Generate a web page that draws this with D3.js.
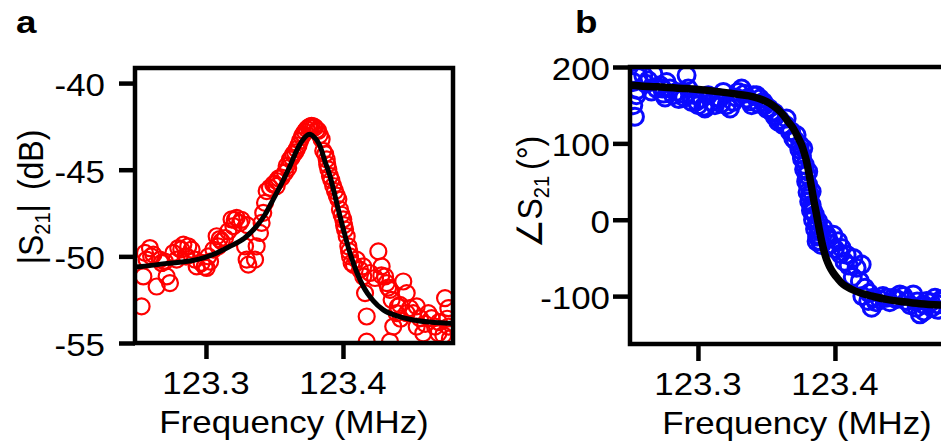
<!DOCTYPE html>
<html><head><meta charset="utf-8">
<script src="https://cdn.jsdelivr.net/npm/d3@7"></script>
<style>
body{margin:0;background:#fff}
svg{display:block}
text{font-family:"Liberation Sans",Arial,Helvetica,sans-serif;fill:#000}
</style>
</head><body>
<svg id="chart" width="941" height="445"></svg>
<script>
// ---------- Panel a : |S21| (dB) ----------
const aFreq = [123.2555,123.2591,123.2616,123.2567,123.2664,123.2676,123.2543,123.2640,123.2713,123.2737,123.2530,
123.2762,123.2798,123.2835,123.2871,123.2895,123.2920,123.2932,123.2968,123.3005,123.3017,123.3054,123.3078,123.3114,
123.3139,123.3163,123.3187,123.3224,123.3248,123.3285,123.3297,123.3309,123.3358,123.3370,123.3394,123.3406,123.3418,
123.3431,123.3443,123.3467,123.3491,123.3516,123.3552,123.3577,123.3589,123.3613,123.3637,123.3662,123.3686,123.3710,
123.3735,123.3771,123.3796,123.3820,123.3844,123.3856,123.3881,123.3893,123.3905,123.3929,123.3942,123.3966,123.3978,
123.4002,123.4015,123.4027,123.4039,123.4051,123.4063,123.4100,123.4124,123.4148,123.4161,123.4173,123.4197,123.4234,
123.4258,123.4282,123.4307,123.4319,123.4343,123.4355,123.4367,123.4392,123.4416,123.4440,123.4465,123.4489,123.4513,
123.4538,123.4562,123.4586,123.4623,123.4647,123.4672,123.4696,123.4732,123.4745,123.4769,123.4769,123.4781,123.4173,
123.4343,123.2786,123.2859,123.3090,123.3200,123.3516,123.4148,123.4538,123.4465,
123.3500,123.3530,123.3600,123.3625,123.3650,123.3675,123.3700,123.3722,123.3750,123.3760,123.3785,123.3810,123.3830,
123.3870,123.3885,123.3915,123.3955,123.3990,123.4008,123.4045,123.4080,123.3300,123.3260,123.3210,123.2700,123.2600,
123.2820,123.2850,123.2990,123.3030,123.3100,123.4280,123.4330,123.4400,123.4420,123.4600,123.4700,123.4760];
const aMag = [-49.80,-49.52,-49.90,-50.19,-50.19,-50.38,-51.16,-51.74,-51.16,-51.54,-52.89,
-49.80,-49.52,-49.32,-49.42,-49.61,-50.19,-50.58,-50.38,-50.67,-50.00,-49.61,-48.84,-49.13,
-48.94,-48.55,-47.87,-47.78,-48.07,-49.42,-50.19,-50.48,-50.19,-49.42,-48.65,-48.07,-47.49,
-46.91,-46.23,-46.04,-45.85,-45.65,-45.46,-45.17,-44.78,-44.40,-44.11,-43.82,-43.34,-42.95,
-42.66,-42.47,-42.56,-42.76,-43.24,-43.91,-44.40,-44.98,-45.36,-45.94,-46.23,-46.71,-47.29,
-47.87,-48.45,-48.84,-49.42,-50.00,-50.38,-50.19,-50.77,-51.16,-52.12,-53.47,-50.96,-51.25,
-49.71,-50.58,-51.16,-51.54,-51.93,-52.51,-54.05,-53.28,-52.80,-51.45,-52.12,-52.99,-53.28,
-54.05,-53.57,-54.44,-53.28,-53.57,-54.05,-54.44,-54.54,-52.41,-52.99,-54.05,-54.73,-54.92,
-54.92,-50.19,-50.00,-49.42,-48.26,-45.94,-50.58,-52.89,-53.28,
-45.80,-45.50,-44.90,-44.30,-44.00,-43.60,-43.10,-42.80,-42.55,-42.50,-42.50,-42.70,-43.00,
-44.10,-44.70,-45.60,-46.50,-47.60,-48.20,-49.70,-50.50,-48.20,-47.90,-47.90,-50.30,-50.00,
-49.60,-50.00,-50.60,-50.30,-49.00,-51.10,-51.80,-52.90,-53.60,-53.90,-53.80,-53.60];
const aFitFreq = [123.2482,123.2531,123.2700,123.2932,123.3050,123.3175,123.3280,123.3370,123.3430,123.3491,123.3555,
123.3613,123.3650,123.3686,123.3720,123.3745,123.3759,123.3780,123.3805,123.3832,123.3870,123.3905,123.3940,123.3978,
123.4015,123.4051,123.4100,123.4148,123.4220,123.4294,123.4400,123.4513,123.4650,123.4781,123.4803];
const aFitMag = [-50.62,-50.58,-50.42,-50.19,-49.90,-49.42,-48.95,-48.26,-47.60,-46.71,-45.75,
-44.79,-44.10,-43.53,-43.15,-42.97,-42.95,-43.05,-43.25,-43.63,-44.55,-45.36,-46.45,-47.68,
-48.80,-49.80,-50.90,-51.74,-52.55,-53.09,-53.45,-53.67,-53.80,-53.86,-53.87];
const aYTicks = [-40,-45,-50,-55];

// ---------- Panel b : phase of S21 (deg) ----------
const bFreq = [123.2528,123.2552,123.2540,123.2528,123.2564,123.2601,123.2637,123.2674,123.2698,123.2723,123.2747,
123.2771,123.2796,123.2820,123.2844,123.2881,123.2917,123.2929,123.2954,123.2978,123.3002,123.3027,123.3051,123.3075,
123.3100,123.3124,123.3161,123.3185,123.3209,123.3234,123.3258,123.3294,123.3319,123.3355,123.3392,123.3404,123.3428,
123.3453,123.3477,123.3501,123.3538,123.3562,123.3586,123.3623,123.3647,123.3672,123.3696,123.3720,123.3745,123.3757,
123.3781,123.3793,123.3805,123.3818,123.3830,123.3854,123.3866,123.3878,123.3891,123.3915,123.3939,123.3988,123.4024,
123.4049,123.4085,123.4134,123.4158,123.4195,123.4182,123.4219,123.4243,123.4268,123.4280,123.4328,123.4377,123.4426,
123.4474,123.4523,123.4572,123.4596,123.4620,123.4645,123.4669,123.4706,123.4730,123.4754,123.4800,123.4850,123.4900,
123.3769,123.3805,123.3830,123.3842,123.3878,123.3891,123.3866,
123.2560,123.2620,123.2660,123.2740,123.2760,123.2860,123.2900,123.2990,123.3040,123.3130,123.3170,123.3280,123.3340,
123.3380,123.3440,123.3490,123.3520,123.3560,123.3600,123.3640,123.3680,123.3710,123.3740,123.3760,123.3775,123.3790,
123.3800,123.3812,123.3825,123.3840,123.3855,123.3870,123.3900,123.3950,123.3970,123.4000,123.4040,123.4070,123.4100,
123.4130,123.4200,123.4250,123.4300,123.4350,123.4400,123.4450,123.4500,123.4550,123.4600,123.4650,123.4700,123.4750,
123.4780];
const bPhase = [180.4,163.0,134.8,150.0,187.0,189.1,182.6,191.3,171.7,176.1,165.2,
180.4,171.7,163.0,167.4,165.2,189.1,171.7,154.3,163.0,150.0,158.7,145.7,163.0,
154.3,150.0,158.7,167.4,150.0,145.7,154.3,167.4,171.7,158.7,150.0,163.0,163.0,
158.7,154.3,145.7,141.3,134.8,128.3,123.9,132.6,115.2,106.5,110.9,97.8,84.8,
71.7,58.7,45.7,32.6,19.6,6.5,-6.5,-19.6,-28.3,-10.9,-19.6,-19.6,-28.3,
-37.0,-45.7,-50.0,-63.0,-58.7,-80.4,-89.1,-106.5,-115.2,-102.2,-104.3,-102.2,-102.2,
-97.8,-106.5,-97.8,-115.2,-123.9,-110.9,-106.5,-115.2,-102.2,-110.9,-105.0,-112.0,-108.0,
93.5,63.0,37.0,10.9,-2.2,-15.2,-28.3,
170,178,168,172,160,158,160,155,148,160,152,160,165,
155,152,150,146,140,131,124,116,104,92,80,66,50,
36,24,12,0,-12,-22,-33,-25,-32,-38,-45,-55,-60,
-75,-100,-96,-108,-100,-108,-104,-100,-112,-107,-120,-108,-118,
-104];
const bFitFreq = [123.2504,123.2516,123.2700,123.2917,123.3161,123.3300,123.3404,123.3470,123.3526,123.3580,123.3623,
123.3660,123.3696,123.3730,123.3757,123.3775,123.3793,123.3812,123.3830,123.3848,123.3866,123.3885,123.3903,123.3920,
123.3939,123.3960,123.3988,123.4020,123.4061,123.4120,123.4182,123.4280,123.4377,123.4500,123.4620,123.4766,123.4940];
const bFitPhase = [176.3,176.0,174.0,171.7,167.4,164.0,160.9,157.0,152.2,145.0,137.0,
128.0,119.6,108.0,97.8,88.0,76.1,59.0,41.3,23.0,6.5,-12.0,-28.3,-41.0,
-52.2,-61.0,-69.6,-77.0,-84.8,-91.0,-95.7,-100.5,-104.3,-107.5,-110.0,-111.7,-112.5];
const bYTicks = [200,100,0,-100];

const xTicks = [123.3,123.4];
const xTickLabels = ["123.3","123.4"];

// ---------- drawing ----------
const svg = d3.select("#chart");
const SX = 1.09;   // horizontal stretch of the reference typography
const FS = 32;

function txt(g, x, y, s, opt = {}) {
  const t = g.append("text")
    .attr("transform", `translate(${x},${y}) scale(${opt.sx || SX},1)` + (opt.rot ? " rotate(-90)" : ""))
    .attr("text-anchor", opt.anchor || "middle")
    .style("font-size", (opt.size || FS) + "px")
    .style("font-weight", opt.weight || "normal");
  if (s !== null) t.text(s);
  return t;
}

function panel(cfg) {
  const x = d3.scaleLinear().domain(cfg.xDomain).range([cfg.left, cfg.right]);
  const y = d3.scaleLinear().domain(cfg.yDomain).range([cfg.bottom, cfg.top]);
  const g = svg.append("g");
  const clipId = "clip" + cfg.name;
  svg.append("clipPath").attr("id", clipId).append("rect")
    .attr("x", cfg.left).attr("y", cfg.top)
    .attr("width", cfg.right - cfg.left).attr("height", cfg.bottom - cfg.top);

  const data = cfg.xs.map((v, i) => [v, cfg.ys[i]]).sort((p, q) => p[0] - q[0]);
  const fit = cfg.fx.map((v, i) => [v, cfg.fy[i]]);
  const inner = g.append("g").attr("clip-path", `url(#${clipId})`);
  inner.selectAll("circle").data(data).join("circle")
    .attr("cx", d => x(d[0])).attr("cy", d => y(d[1]))
    .attr("r", cfg.r).attr("fill", "none")
    .attr("stroke", cfg.color).attr("stroke-width", cfg.cw);
  inner.append("path").datum(fit)
    .attr("d", d3.line().x(d => x(d[0])).y(d => y(d[1])).curve(d3.curveMonotoneX))
    .attr("fill", "none").attr("stroke", "#000").attr("stroke-width", cfg.lw)
    .attr("stroke-linejoin", "round").attr("stroke-linecap", "round");

  // frame
  g.append("rect").attr("x", cfg.left).attr("y", cfg.top)
    .attr("width", cfg.right - cfg.left).attr("height", cfg.bottom - cfg.top)
    .attr("fill", "none").attr("stroke", "#000").attr("stroke-width", 4.5);

  // axes (tick marks)
  const ya = g.append("g").attr("transform", `translate(${cfg.left},0)`)
    .call(d3.axisLeft(y).tickValues(cfg.yTicks).tickSize(cfg.tick).tickSizeOuter(0).tickFormat(""));
  const xa = g.append("g").attr("transform", `translate(0,${cfg.bottom})`)
    .call(d3.axisBottom(x).tickValues(xTicks).tickSize(cfg.tick).tickSizeOuter(0).tickFormat(""));
  [ya, xa].forEach(a => {
    a.select(".domain").remove();
    a.selectAll("line").attr("stroke", "#000").attr("stroke-width", 4.5);
  });

  // tick labels
  cfg.yTicks.forEach(v => txt(g, cfg.ylabX, y(v) + 13, String(v), {anchor: "end"}));
  xTicks.forEach((v, i) => txt(g, x(v), cfg.bottom + 51, xTickLabels[i]));

  // axis titles
  txt(g, (cfg.left + cfg.right) / 2, cfg.bottom + 90, "Frequency (MHz)", {size: 32});
  const yt = txt(g, cfg.ytX, cfg.ytY, null, {rot: true, size: 32});
  cfg.ytitle(yt);

  // panel letter
  txt(g, cfg.letterX, 33, cfg.name, {anchor: "start", weight: "bold", size: 32, sx: 1.15});
}

panel({
  name: "a", left: 135, right: 453, top: 68, bottom: 343,
  xDomain: [123.2482, 123.4803], yDomain: [-55, -39.13],
  xs: aFreq, ys: aMag, fx: aFitFreq, fy: aFitMag, yTicks: aYTicks,
  color: "#ff0000", r: 8, cw: 2.2, lw: 5, tick: 16, ylabX: 105,
  ytX: 43, ytY: 197, letterX: 16,
  ytitle: t => {
    t.append("tspan").text("|S");
    t.append("tspan").attr("dy", 6).style("font-size", "20px").text("21");
    t.append("tspan").attr("dy", -6).text("|");
    t.append("tspan").attr("dx", 14).text("(dB)");
  }
});

panel({
  name: "b", left: 630, right: 964, top: 67, bottom: 344,
  xDomain: [123.2504, 123.4942], yDomain: [-162.7, 200],
  xs: bFreq, ys: bPhase, fx: bFitFreq, fy: bFitPhase, yTicks: bYTicks,
  color: "#0a0aff", r: 8.5, cw: 3, lw: 7.5, tick: 17, ylabX: 610,
  ytX: 542, ytY: 192, letterX: 575,
  ytitle: t => {
    t.append("tspan").text("\u2220S");
    t.append("tspan").attr("dy", 6).style("font-size", "20px").text("21");
    t.append("tspan").attr("dy", -6).attr("dx", 6).text("(\u00b0)");
  }
});
</script>
</body></html>
